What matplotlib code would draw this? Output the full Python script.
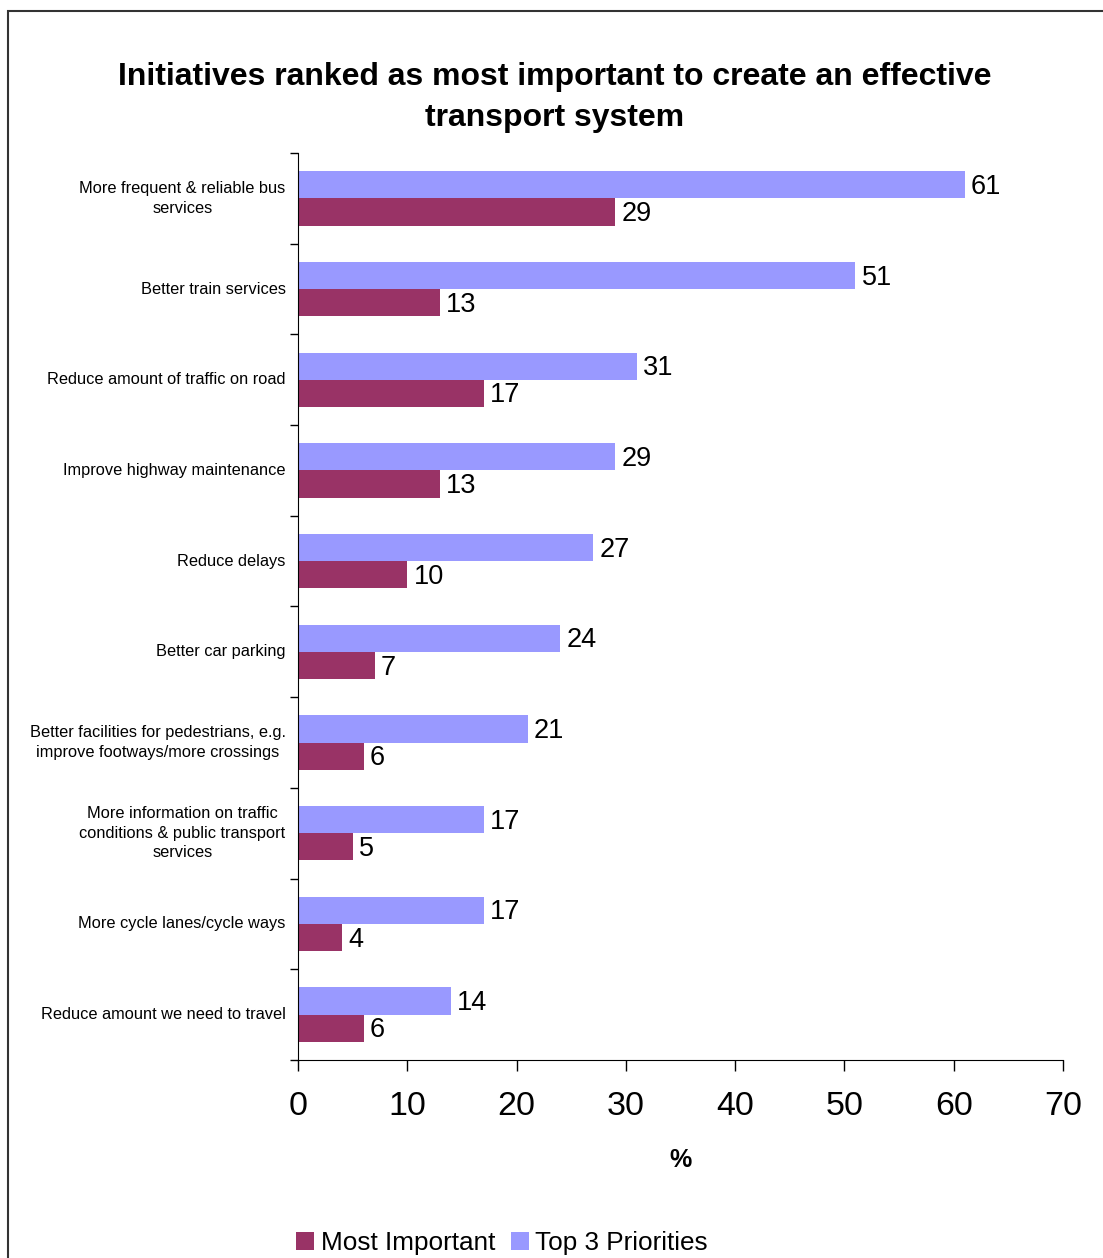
import numpy as np
import matplotlib.pyplot as plt
from matplotlib.patches import Rectangle

plt.rcParams['font.family'] = ['Liberation Sans', 'DejaVu Sans']

categories = [
    "More frequent & reliable bus\nservices",
    "Better train services",
    "Reduce amount of traffic on road",
    "Improve highway maintenance",
    "Reduce delays",
    "Better car parking",
    "Better facilities for pedestrians, e.g.\nimprove footways/more crossings",
    "More information on traffic\nconditions & public transport\nservices",
    "More cycle lanes/cycle ways",
    "Reduce amount we need to travel",
]
most_important = [29, 13, 17, 13, 10, 7, 6, 5, 4, 6]
top3_priorities = [61, 51, 31, 29, 27, 24, 21, 17, 17, 14]
x_ticks = [0, 10, 20, 30, 40, 50, 60, 70]

MAROON = "#993366"
LAVENDER = "#9999FF"


def main():
    fig = plt.figure(figsize=(11.03, 12.58), dpi=100)
    ax = fig.add_axes([0.2702, 0.1574, 0.6936, 0.7210])

    n = len(categories)
    y = np.arange(n)
    h = 0.3

    bars_top = ax.barh(y - h / 2, top3_priorities, height=h, color=LAVENDER,
                       label="Top 3 Priorities")
    bars_most = ax.barh(y + h / 2, most_important, height=h, color=MAROON,
                        label="Most Important")

    for bars, vals in ((bars_top, top3_priorities), (bars_most, most_important)):
        for b, v in zip(bars, vals):
            ax.annotate(str(v), xy=(v, b.get_y() + b.get_height() / 2),
                        xytext=(4.5, -1.5), textcoords="offset points",
                        va="center", ha="left", fontsize=19.5)

    ax.set_ylim(n - 0.5, -0.5)
    ax.set_xlim(0, 70)

    # category labels sit mid-band, tick marks sit on the band edges
    ax.set_yticks(np.arange(n + 1) - 0.5)
    ax.set_yticklabels([])
    ax.tick_params(axis="y", length=6, direction="out", width=1)
    for i, c in enumerate(categories):
        ax.annotate(c, xy=(0, i), xycoords=("axes fraction", "data"),
                    xytext=(-9, 0), textcoords="offset points",
                    ha="right", va="center", multialignment="center",
                    fontsize=11.8, linespacing=1.38)

    ax.set_xticks(x_ticks)
    ax.set_xticklabels([str(t) for t in x_ticks], fontsize=24.5)
    ax.tick_params(axis="x", length=8, direction="out", width=1, pad=14)
    ax.set_xlabel("%", fontsize=18, fontweight="bold", labelpad=19)

    for s in ("top", "right"):
        ax.spines[s].set_visible(False)

    fig.suptitle("Initiatives ranked as most important to create an effective\ntransport system",
                 x=0.503, y=0.951, fontsize=23, fontweight="bold", linespacing=1.5)

    handles = [bars_most, bars_top]
    fig.legend(handles, ["Most Important", "Top 3 Priorities"], loc="center",
               bbox_to_anchor=(0.455, 0.012), ncol=2, frameon=False, fontsize=18.8,
               handlelength=0.7, handleheight=0.7, handletextpad=0.25, columnspacing=0.6)

    # outer chart frame, running off the right and bottom edges
    fig.patches.append(Rectangle((0.0075, -0.05), 1.1, 1.041, transform=fig.transFigure,
                                 fill=False, edgecolor="#333333", linewidth=1.5))

    fig.savefig("out.png", dpi=100)


if __name__ == "__main__":
    main()
